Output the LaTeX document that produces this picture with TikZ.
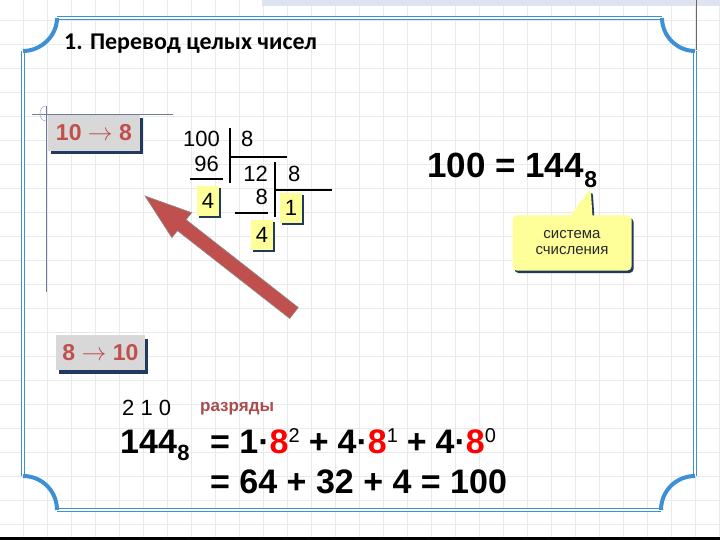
\documentclass[tikz,border=0pt]{standalone}
\usepackage{fontspec}
\setmainfont{Liberation Sans}
\newfontfamily\titlefont{Carlito}
\usetikzlibrary{arrows.meta,shapes.callouts,shadows,positioning}

\definecolor{framebl}{RGB}{61,143,214}
\definecolor{gridgr}{RGB}{234,234,234}
\definecolor{boxgr}{RGB}{216,216,216}
\definecolor{shadownavy}{RGB}{31,58,92}
\definecolor{convred}{RGB}{192,80,77}
\definecolor{hlyellow}{RGB}{255,255,153}
\definecolor{rankbrown}{RGB}{168,76,76}
\definecolor{topbar}{RGB}{221,227,239}
\definecolor{slate}{RGB}{110,122,160}

\newcommand{\fs}[1]{\fontsize{#1}{#1}\selectfont}
\newcommand{\pw}[1]{\raisebox{11pt}{\fs{20}\mdseries #1}}
\newcommand{\eight}{{\color{red}8}}

\begin{document}
\begin{tikzpicture}
  [x=1pt,y=-1pt,
   gridline/.style={draw=gridgr,line width=0.7pt},
   frameline/.style={draw=framebl,double=white,double distance=1.3pt,line width=1.4pt},
   framecorner/.style={draw=framebl,line width=4pt},
   convbox/.style={fill=boxgr,text=convred,font=\fs{23}\bfseries,inner sep=0pt,
     drop shadow={shadow xshift=3pt,shadow yshift=-3.5pt,fill=shadownavy,opacity=1}},
   digit/.style={font=\fs{22},inner sep=0pt},
   remainder/.style={digit,fill=hlyellow,minimum width=22pt,minimum height=30pt,
     drop shadow={shadow xshift=2pt,shadow yshift=-2pt,fill=shadownavy,opacity=1}},
   divline/.style={line width=1.5pt},
   big/.style={font=\fs{35}\bfseries,inner sep=0pt,anchor=base west},
   subbig/.style={font=\fs{23}\bfseries,inner sep=0pt,anchor=base west},
   note/.style={rectangle callout,fill=hlyellow,rounded corners=4pt,
     minimum width=119pt,minimum height=55pt,align=center,font=\fs{15},
     text=black!85,inner sep=2pt,callout pointer width=22pt,
     drop shadow={shadow xshift=2pt,shadow yshift=-2.5pt,fill=shadownavy,opacity=1}}]

  \useasboundingbox (0,0) rectangle (720,540);
  \fill[white] (0,0) rectangle (720,540);
  \foreach \gx in {23,47,...,719}
    \draw[gridline] (\gx,0) -- (\gx,540);
  \foreach \gy in {20,44,...,540}
    \draw[gridline] (0,\gy) -- (720,\gy);
  \fill[topbar] (262,0) rectangle (720,6);
  \draw[black!60,line width=0.6pt] (696,0) -- (696,50);
  \fill[black] (0,537) rectangle (720,540);

  \draw[frameline] (57,18) -- (662,18);
  \draw[frameline] (23,51) -- (23,476);
  \draw[frameline] (57,510) -- (661,510);
  \draw[frameline] (695,51) -- (695,476);
  \draw[framecorner] (57,18) .. controls (57,36) and (41,51) .. (23,51);
  \draw[framecorner] (662,18) .. controls (662,36) and (677,51) .. (695,51);
  \draw[framecorner] (23,476) .. controls (42,476) and (57,491) .. (57,510);
  \draw[framecorner] (695,476) .. controls (676,476) and (661,491) .. (661,510);

  \draw[slate,line width=0.7pt] (32,114) -- (173,114);
  \draw[slate,line width=0.7pt] (46,106) -- (46,292);
  \draw[slate!60,line width=0.6pt] (46,106) .. controls (38,106) and (38,121) .. (46,121);

  \node[anchor=base west,font=\titlefont\bfseries\fs{24},inner sep=0pt] (title) at (64,50) {1. Перевод целых чисел};

  \node[convbox,minimum width=92pt,minimum height=36pt] (tenoct) at (94,133) {10 $\rightarrow$ 8};
  \node[convbox,minimum width=89pt,minimum height=35pt] (octdec) at (100.5,352.5) {8 $\rightarrow$ 10};

  \node[digit,anchor=base east] (dividend) at (220,147) {100};
  \node[digit,anchor=base west] (divisor1) at (241,147) {8};
  \node[digit,anchor=base east] (sub1) at (219,172) {96};
  \node[remainder] (rem1) at (208,201) {4};
  \node[digit,anchor=base east] (quot1) at (268,182) {12};
  \node[digit,anchor=base west] (divisor2) at (288,182) {8};
  \node[digit,anchor=base east] (sub2) at (268,205) {8};
  \node[remainder] (rem2) at (291,208) {1};
  \node[remainder] (rem3) at (262,235) {4};

  \draw[divline] (230,128) -- (230,183);
  \draw[divline] (230,157) -- (287,157);
  \draw[divline] (190,179) -- (223,179);
  \draw[divline] (275,162) -- (275,217);
  \draw[divline] (275,190) -- (332,190);
  \draw[divline] (235,213) -- (268,213);

  \filldraw[fill=convred,draw=black!45,line width=0.6pt]
    (145,196) -- (191.7,212.7) -- (186.1,219.7) -- (298.3,307.5)
    -- (289.7,318.5) -- (177.5,230.7) -- (171.9,237.7) -- cycle;

  \node[big] (result) at (427,178) {100 = 144};
  \node[subbig] (resbase) at ([yshift=-10pt]result.base east) {8};
  \node[note,callout absolute pointer={(resbase.south)}] (basenote) at (572,243) {система\\[1pt]счисления};

  \node[digit,anchor=base west] (ranks) at (122,415) {2 1 0};
  \node[anchor=base west,font=\fs{17}\bfseries,text=rankbrown,inner sep=0pt] (ranklabel) at (200,411) {разряды};

  \node[big,font=\fs{34}\bfseries] (octnum) at (120,453) {144};
  \node[subbig,font=\fs{22}\bfseries] (octbase) at ([yshift=-7pt]octnum.base east) {8};
  \node[big,font=\fs{34}\bfseries] (expand) at (210,453) {= 1·\eight\pw{2}\hspace{9pt}+\hspace{9pt}4·\eight\pw{1}\hspace{9pt}+\hspace{9pt}4·\eight\pw{0}};
  \node[big,font=\fs{34}\bfseries] (total) at (210,493) {= 64 + 32 + 4 = 100};
\end{tikzpicture}
\end{document}
